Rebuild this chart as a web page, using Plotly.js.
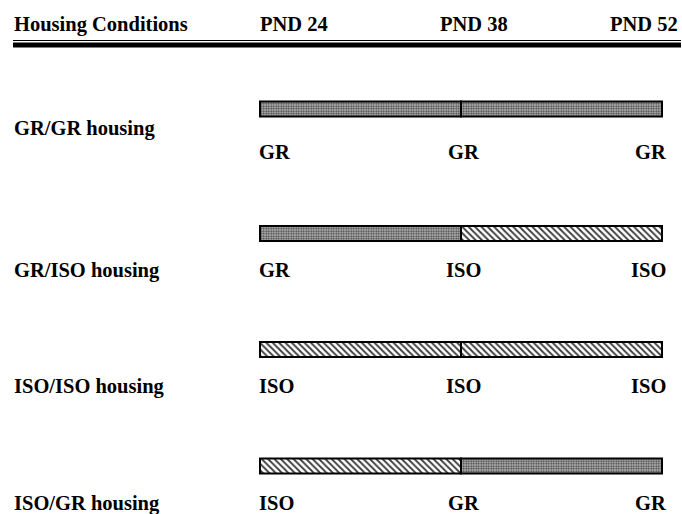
<!DOCTYPE html>
<html>
<head>
<meta charset="utf-8">
<script src="https://cdn.plot.ly/plotly-3.0.1.min.js"></script>
<style>html,body{margin:0;padding:0;background:#fff;}</style>
</head>
<body>
<div id="chart" style="width:682px;height:514px;"></div>
<script>
// ---- data ----
var groups = ["GR/GR housing", "GR/ISO housing", "ISO/ISO housing", "ISO/GR housing"];
var timepoints = [24, 38, 52];
var timeLabels = ["PND 24", "PND 38", "PND 52"];
var phase1 = ["GR", "GR", "ISO", "ISO"];   // PND 24-38
var phase2 = ["GR", "ISO", "ISO", "GR"];   // PND 38-52
var stageLabels = [
  ["GR", "GR", "GR"],
  ["GR", "ISO", "ISO"],
  ["ISO", "ISO", "ISO"],
  ["ISO", "GR", "GR"]
];
var headerText = "Housing Conditions";

// ---- layout (positions in vertical px-units) ----
var barY = [109, 233.5, 349.5, 466];
var groupLabelY = [128, 270, 386, 503];
var stageLabelY = [152, 270, 386, 503];

var styles = {
  GR: {shape: ".", bgcolor: "#c4c4c4", fgcolor: "#4a4a4a", size: 2.5, solidity: 0.5},
  ISO: {shape: "\\", bgcolor: "#ffffff", fgcolor: "#3a3a3a", size: 4.5, solidity: 0.4}
};

var traces = [];
["GR", "ISO"].forEach(function (cond) {
  [phase1, phase2].forEach(function (phase, pi) {
    var ys = [], xs = [], bases = [];
    phase.forEach(function (c, i) {
      if (c === cond) {
        ys.push(barY[i]);
        bases.push(timepoints[pi]);
        xs.push(timepoints[pi + 1] - timepoints[pi]);
      }
    });
    if (ys.length) {
      traces.push({
        type: "bar", orientation: "h", y: ys, x: xs, base: bases,
        width: 15, showlegend: false, hoverinfo: "skip",
        marker: {color: styles[cond].bgcolor, pattern: styles[cond], line: {color: "#000", width: 2}}
      });
    }
  });
});

var font = {family: "Liberation Serif, Times New Roman, serif", size: 20.5, color: "#000"};
var ann = [];
ann.push({text: "<b>" + headerText + "</b>", xref: "paper", yref: "y", x: 12 / 682, y: 24, xanchor: "left", yanchor: "middle", showarrow: false, font: font});
var hdrAnchor = ["left", "left", "right"];
var hdrShift = [-2, -23, 18];
timeLabels.forEach(function (t, i) {
  ann.push({text: "<b>" + t + "</b>", x: timepoints[i], y: 24, xref: "x", yref: "y", xanchor: hdrAnchor[i], xshift: hdrShift[i], yanchor: "middle", showarrow: false, font: font});
});
groups.forEach(function (g, i) {
  ann.push({text: "<b>" + g + "</b>", xref: "paper", yref: "y", x: 12 / 682, y: groupLabelY[i], xanchor: "left", yanchor: "middle", showarrow: false, font: font});
  var anch = ["left", "center", "right"];
  var sh = [-3, 2, 6];
  stageLabels[i].forEach(function (s, j) {
    ann.push({text: "<b>" + s + "</b>", x: timepoints[j], y: stageLabelY[i], xref: "x", yref: "y", xanchor: anch[j], xshift: sh[j], yanchor: "middle", showarrow: false, font: font});
  });
});

var x0 = 24 - 260 * 14 / 201, x1 = 24 + 422 * 14 / 201;
var layout = {
  width: 682, height: 514,
  margin: {l: 0, r: 0, t: 0, b: 0},
  paper_bgcolor: "#fff", plot_bgcolor: "#fff",
  barmode: "overlay",
  xaxis: {range: [x0, x1], visible: false, fixedrange: true},
  yaxis: {range: [514, 0], visible: false, fixedrange: true},
  annotations: ann,
  shapes: [
    {type: "line", xref: "paper", yref: "y", x0: 13 / 682, x1: 681 / 682, y0: 40.5, y1: 40.5, line: {color: "#000", width: 1.2}},
    {type: "line", xref: "paper", yref: "y", x0: 13 / 682, x1: 681 / 682, y0: 45, y1: 45, line: {color: "#000", width: 5}}
  ]
};
Plotly.newPlot("chart", traces, layout, {displayModeBar: false, staticPlot: true});
</script>
</body>
</html>
